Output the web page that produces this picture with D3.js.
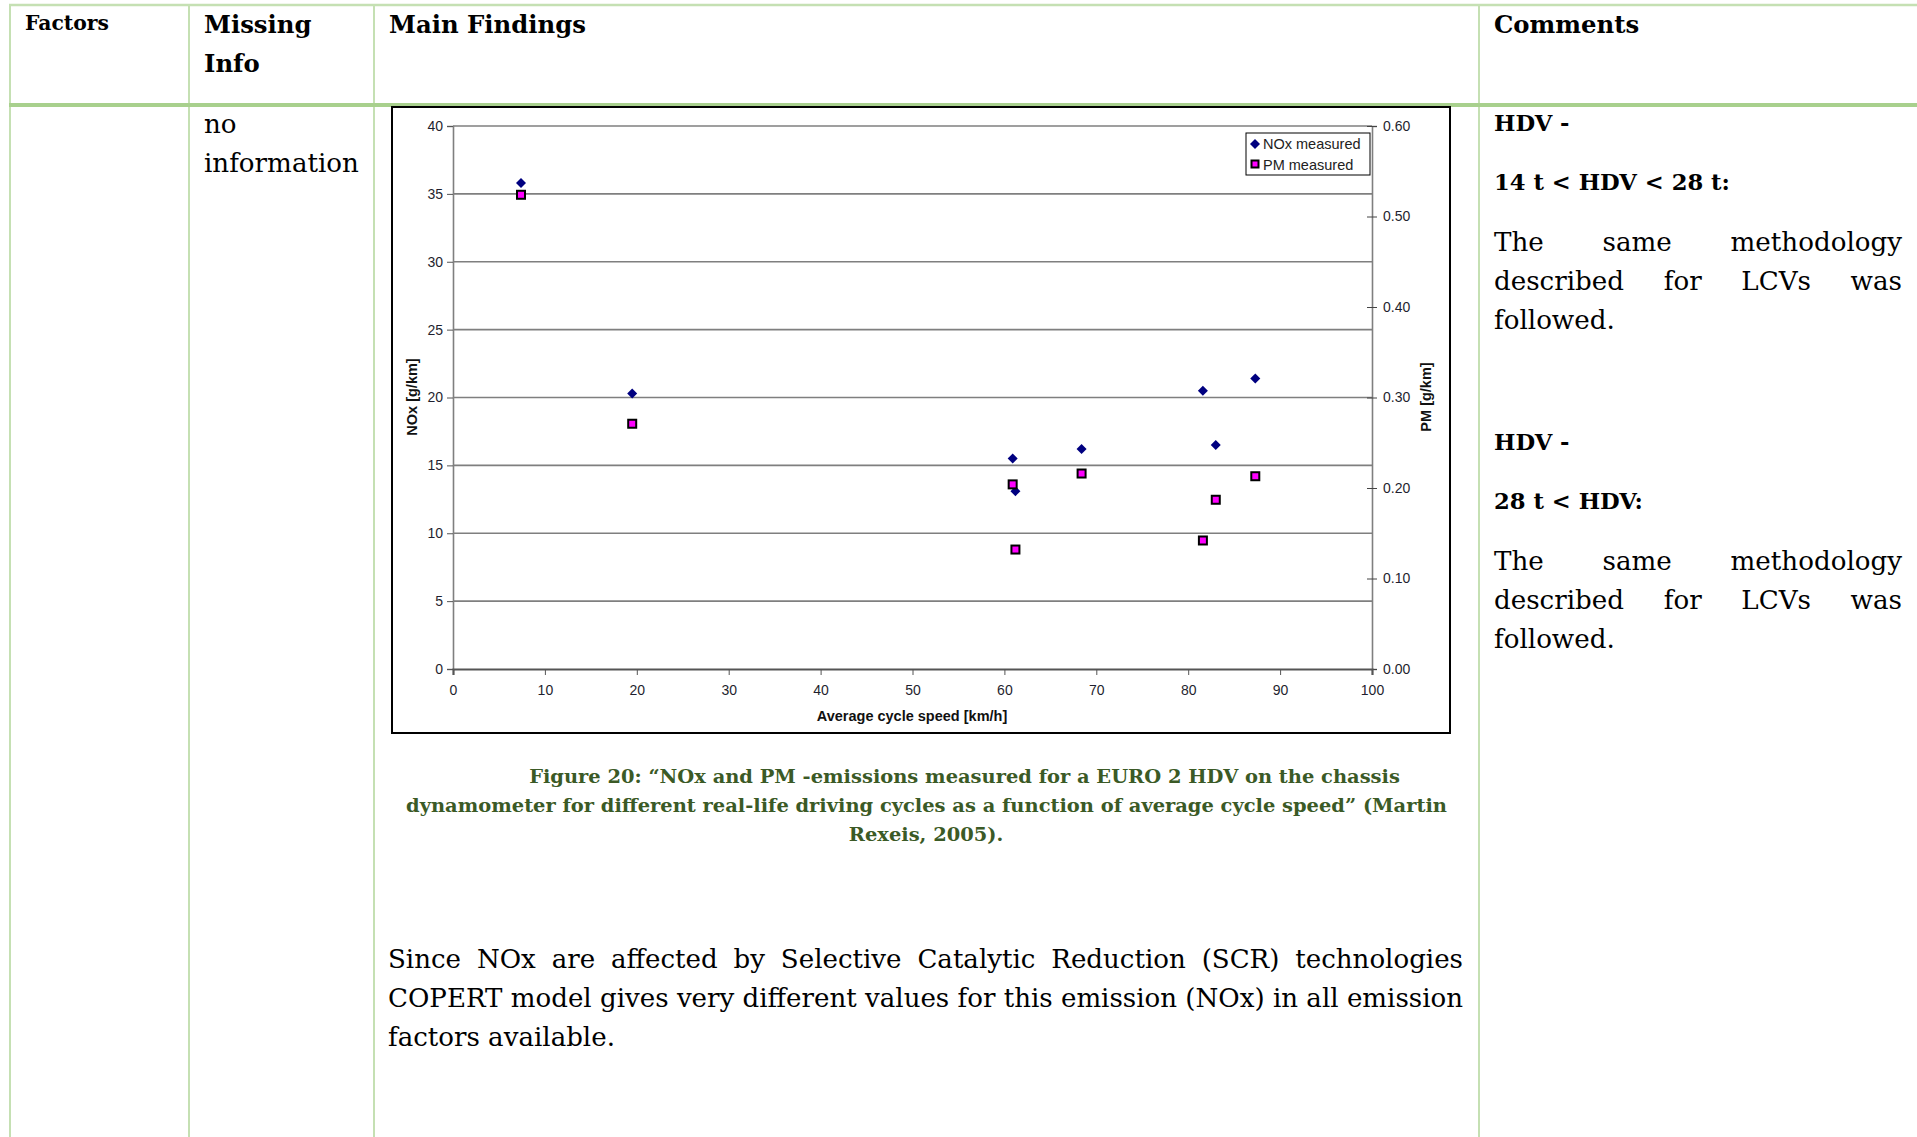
<!DOCTYPE html>
<html><head><meta charset="utf-8">
<script src="https://cdn.jsdelivr.net/npm/d3@7"></script>
<style>body{margin:0;background:#fff;overflow:hidden}</style>
</head><body><svg id="c" width="1917" height="1137"></svg>
<script>
// ---- data ----
const speeds = [7.4, 19.5, 60.9, 61.2, 68.4, 81.6, 83.0, 87.3];
const noxMeasured = [35.8, 20.3, 15.5, 13.1, 16.2, 20.5, 16.5, 21.4];
const pmMeasured = [0.524, 0.271, 0.204, 0.132, 0.216, 0.142, 0.187, 0.213];
const xTicks = [0, 10, 20, 30, 40, 50, 60, 70, 80, 90, 100];
const noxTicks = [0, 5, 10, 15, 20, 25, 30, 35, 40];
const pmTicks = [0, 0.1, 0.2, 0.3, 0.4, 0.5, 0.6];
const seriesNames = ["NOx measured", "PM measured"];
const axisTitles = {x: "Average cycle speed [km/h]", yLeft: "NOx [g/km]", yRight: "PM [g/km]"};
const headers = ["Factors", ["Missing", "Info"], "Main Findings", "Comments"];
const captionLines = [
  "Figure 20: \u201cNOx and PM -emissions measured for a EURO 2 HDV on the chassis",
  "dynamometer for different real-life driving cycles as a function of average cycle speed\u201d (Martin",
  "Rexeis, 2005)."
];
const paraLines = [
  "Since NOx are affected by Selective Catalytic Reduction (SCR) technologies",
  "COPERT model gives very different values for this emission (NOx) in all emission",
  "factors available."
];
const commentBlocks = [
  {h1: "HDV -", h2: "14 t < HDV < 28 t:", body: ["The same methodology", "described for LCVs was", "followed."]},
  {h1: "HDV -", h2: "28 t < HDV:", body: ["The same methodology", "described for LCVs was", "followed."]}
];
const missingInfo = ["no", "information"];

// ---- helpers ----
const svg = d3.select("#c");
const SERIF = "'DejaVu Serif', 'Liberation Serif', serif";
const SANS = "'Liberation Sans', Arial, sans-serif";

function measure(text, size, weight, family) {
  const t = svg.append("text").attr("font-family", family).attr("font-size", size)
    .attr("font-weight", weight).text(text);
  const w = t.node().getComputedTextLength();
  t.remove();
  return w;
}
function fitSize(text, weight, target, family) {
  return 100 * target / measure(text, 100, weight, family);
}
function justify(g, line, x0, x1, y, size, weight, fill, family) {
  const words = line.split(" ");
  const ws = words.map(w => measure(w, size, weight, family));
  const total = d3.sum(ws);
  const gap = (x1 - x0 - total) / (words.length - 1);
  const t = g.append("text").attr("y", y).attr("font-family", family).attr("font-size", size)
    .attr("font-weight", weight).attr("fill", fill);
  let x = x0;
  words.forEach((w, i) => { t.append("tspan").attr("x", x).attr("y", y).text(w); x += ws[i] + gap; });
}
function plain(g, line, x, y, size, weight, fill, family, anchor) {
  g.append("text").attr("x", x).attr("y", y).attr("font-family", family).attr("font-size", size)
    .attr("font-weight", weight).attr("fill", fill).attr("text-anchor", anchor || "start").text(line);
}

// ---- table frame ----
const table = svg.append("g");
const colX = [10, 189, 374, 1479];
colX.forEach(x => table.append("line").attr("x1", x).attr("x2", x).attr("y1", 4).attr("y2", 1137)
  .attr("stroke", "#c5e0b3").attr("stroke-width", 2));
table.append("line").attr("x1", 9).attr("x2", 1917).attr("y1", 5).attr("y2", 5)
  .attr("stroke", "#c5e0b3").attr("stroke-width", 2.5);
table.append("line").attr("x1", 9).attr("x2", 1917).attr("y1", 105).attr("y2", 105)
  .attr("stroke", "#a8d08d").attr("stroke-width", 4);

// headers
const hSize = fitSize("Main Findings", "bold", 197, SERIF);
const fSize = fitSize("Factors", "bold", 84, SERIF);
plain(table, headers[0], 25, 30, fSize, "bold", "#000", SERIF);
plain(table, headers[1][0], 204, 33, hSize, "bold", "#000", SERIF);
plain(table, headers[1][1], 204, 72, hSize, "bold", "#000", SERIF);
plain(table, headers[2], 389, 33, hSize, "bold", "#000", SERIF);
plain(table, headers[3], 1494, 33, hSize, "bold", "#000", SERIF);

// body text
const bSize = fitSize("information", "normal", 155, SERIF);
plain(table, missingInfo[0], 204, 133, bSize, "normal", "#000", SERIF);
plain(table, missingInfo[1], 204, 172, bSize, "normal", "#000", SERIF);

const cbSize = fitSize("14 t < HDV < 28 t:", "bold", 236, SERIF);
const blockY = [131, 450];
commentBlocks.forEach((b, i) => {
  const y0 = blockY[i];
  plain(table, b.h1, 1494, y0, cbSize, "bold", "#000", SERIF);
  plain(table, b.h2, 1494, y0 + 59, cbSize, "bold", "#000", SERIF);
  justify(table, b.body[0], 1494, 1902, y0 + 120, bSize, "normal", "#000", SERIF);
  justify(table, b.body[1], 1494, 1902, y0 + 159, bSize, "normal", "#000", SERIF);
  plain(table, b.body[2], 1494, y0 + 198, bSize, "normal", "#000", SERIF);
});

// paragraph
const pSize = Math.min(fitSize(paraLines[1], "normal", 1075, SERIF), bSize);
justify(table, paraLines[0], 388, 1463, 968, pSize, "normal", "#000", SERIF);
justify(table, paraLines[1], 388, 1463, 1007, pSize, "normal", "#000", SERIF);
plain(table, paraLines[2], 388, 1046, pSize, "normal", "#000", SERIF);

// caption
const capColor = "#3b5a26";
const cSize = fitSize(captionLines[1], "bold", 1041, SERIF);
plain(table, captionLines[0], 964.5, 783, cSize, "bold", capColor, SERIF, "middle");
plain(table, captionLines[1], 926.5, 812, cSize, "bold", capColor, SERIF, "middle");
plain(table, captionLines[2], 926, 841, cSize, "bold", capColor, SERIF, "middle");

// ---- chart ----
const chart = svg.append("g");
chart.append("rect").attr("x", 392).attr("y", 107).attr("width", 1058).attr("height", 626)
  .attr("fill", "#fff").attr("stroke", "#000").attr("stroke-width", 2);

const L = 453, R = 1372, T = 126, B = 669;
const x = d3.scaleLinear().domain([0, 100]).range([L, R]);
const yN = d3.scaleLinear().domain([0, 40]).range([B, T]);
const yP = d3.scaleLinear().domain([0, 0.6]).range([B, T]);

// gridlines
chart.append("g").selectAll("line").data(noxTicks.filter(d => d > 0)).join("line")
  .attr("x1", L).attr("x2", R).attr("y1", d => yN(d)).attr("y2", d => yN(d))
  .attr("stroke", "#7f7f7f").attr("stroke-width", 1.6);

const tickColor = "#1f1f2f";
const TF = 14;
// left axis
const gL = chart.append("g").attr("transform", `translate(${L},0)`)
  .call(d3.axisLeft(yN).tickValues(noxTicks).tickSize(6).tickPadding(4).tickFormat(d3.format("d")));
gL.select(".domain").attr("stroke", "#7f7f7f").attr("stroke-width", 1.6);
gL.selectAll(".tick line").attr("stroke", "#555");
gL.selectAll(".tick text").attr("font-family", SANS).attr("font-size", TF).attr("fill", tickColor);

// right axis
const gR = chart.append("g").attr("transform", `translate(${R},0)`)
  .call(d3.axisRight(yP).tickValues(pmTicks).tickSize(5).tickPadding(6).tickFormat(d3.format(".2f")));
gR.select(".domain").attr("stroke", "#7f7f7f").attr("stroke-width", 1.6);
gR.selectAll(".tick line").attr("x1", -5).attr("stroke", "#444");
gR.selectAll(".tick text").attr("font-family", SANS).attr("font-size", TF).attr("fill", tickColor);

// bottom axis
const gB = chart.append("g").attr("transform", `translate(0,${B})`)
  .call(d3.axisBottom(x).tickValues(xTicks).tickSize(6).tickPadding(10).tickFormat(d3.format("d")));
gB.select(".domain").attr("stroke", "#555").attr("stroke-width", 2.2);
gB.selectAll(".tick line").attr("stroke", "#555");
gB.selectAll(".tick text").attr("font-family", SANS).attr("font-size", TF).attr("fill", tickColor);

// axis titles
const AF = 14.5;
chart.append("text").attr("x", 912).attr("y", 721).attr("text-anchor", "middle")
  .attr("font-family", SANS).attr("font-size", AF).attr("font-weight", "bold").attr("fill", "#111")
  .text(axisTitles.x);
chart.append("text").attr("transform", "translate(417,397) rotate(-90)").attr("text-anchor", "middle")
  .attr("font-family", SANS).attr("font-size", AF).attr("font-weight", "bold").attr("fill", "#111")
  .text(axisTitles.yLeft);
chart.append("text").attr("transform", "translate(1431,397) rotate(-90)").attr("text-anchor", "middle")
  .attr("font-family", SANS).attr("font-size", AF).attr("font-weight", "bold").attr("fill", "#111")
  .text(axisTitles.yRight);

// markers
const diamond = d3.symbol().type(d3.symbolDiamond2).size(64);
const pmData = speeds.map((s, i) => ({s, v: pmMeasured[i]}));
const noxData = speeds.map((s, i) => ({s, v: noxMeasured[i]}));
chart.append("g").selectAll("path").data(noxData).join("path")
  .attr("d", diamond).attr("transform", d => `translate(${x(d.s)},${yN(d.v)})`)
  .attr("fill", "#000080");
chart.append("g").selectAll("rect").data(pmData).join("rect")
  .attr("x", d => x(d.s) - 4).attr("y", d => yP(d.v) - 4).attr("width", 8).attr("height", 8)
  .attr("fill", "#ff00ff").attr("stroke", "#000").attr("stroke-width", 2);

// legend
const lg = chart.append("g");
lg.append("rect").attr("x", 1246).attr("y", 133).attr("width", 124).attr("height", 42)
  .attr("fill", "#fff").attr("stroke", "#000").attr("stroke-width", 1);
lg.append("path").attr("d", diamond).attr("transform", "translate(1255,144)").attr("fill", "#000080");
lg.append("rect").attr("x", 1251.5).attr("y", 160.5).attr("width", 7).attr("height", 7)
  .attr("fill", "#ff00ff").attr("stroke", "#000").attr("stroke-width", 2);
lg.selectAll("text.l").data(seriesNames).join("text").attr("class", "l")
  .attr("x", 1263).attr("y", (d, i) => 149 + i * 20.5)
  .attr("font-family", SANS).attr("font-size", 14.5).attr("fill", "#222").text(d => d);
</script></body></html>
